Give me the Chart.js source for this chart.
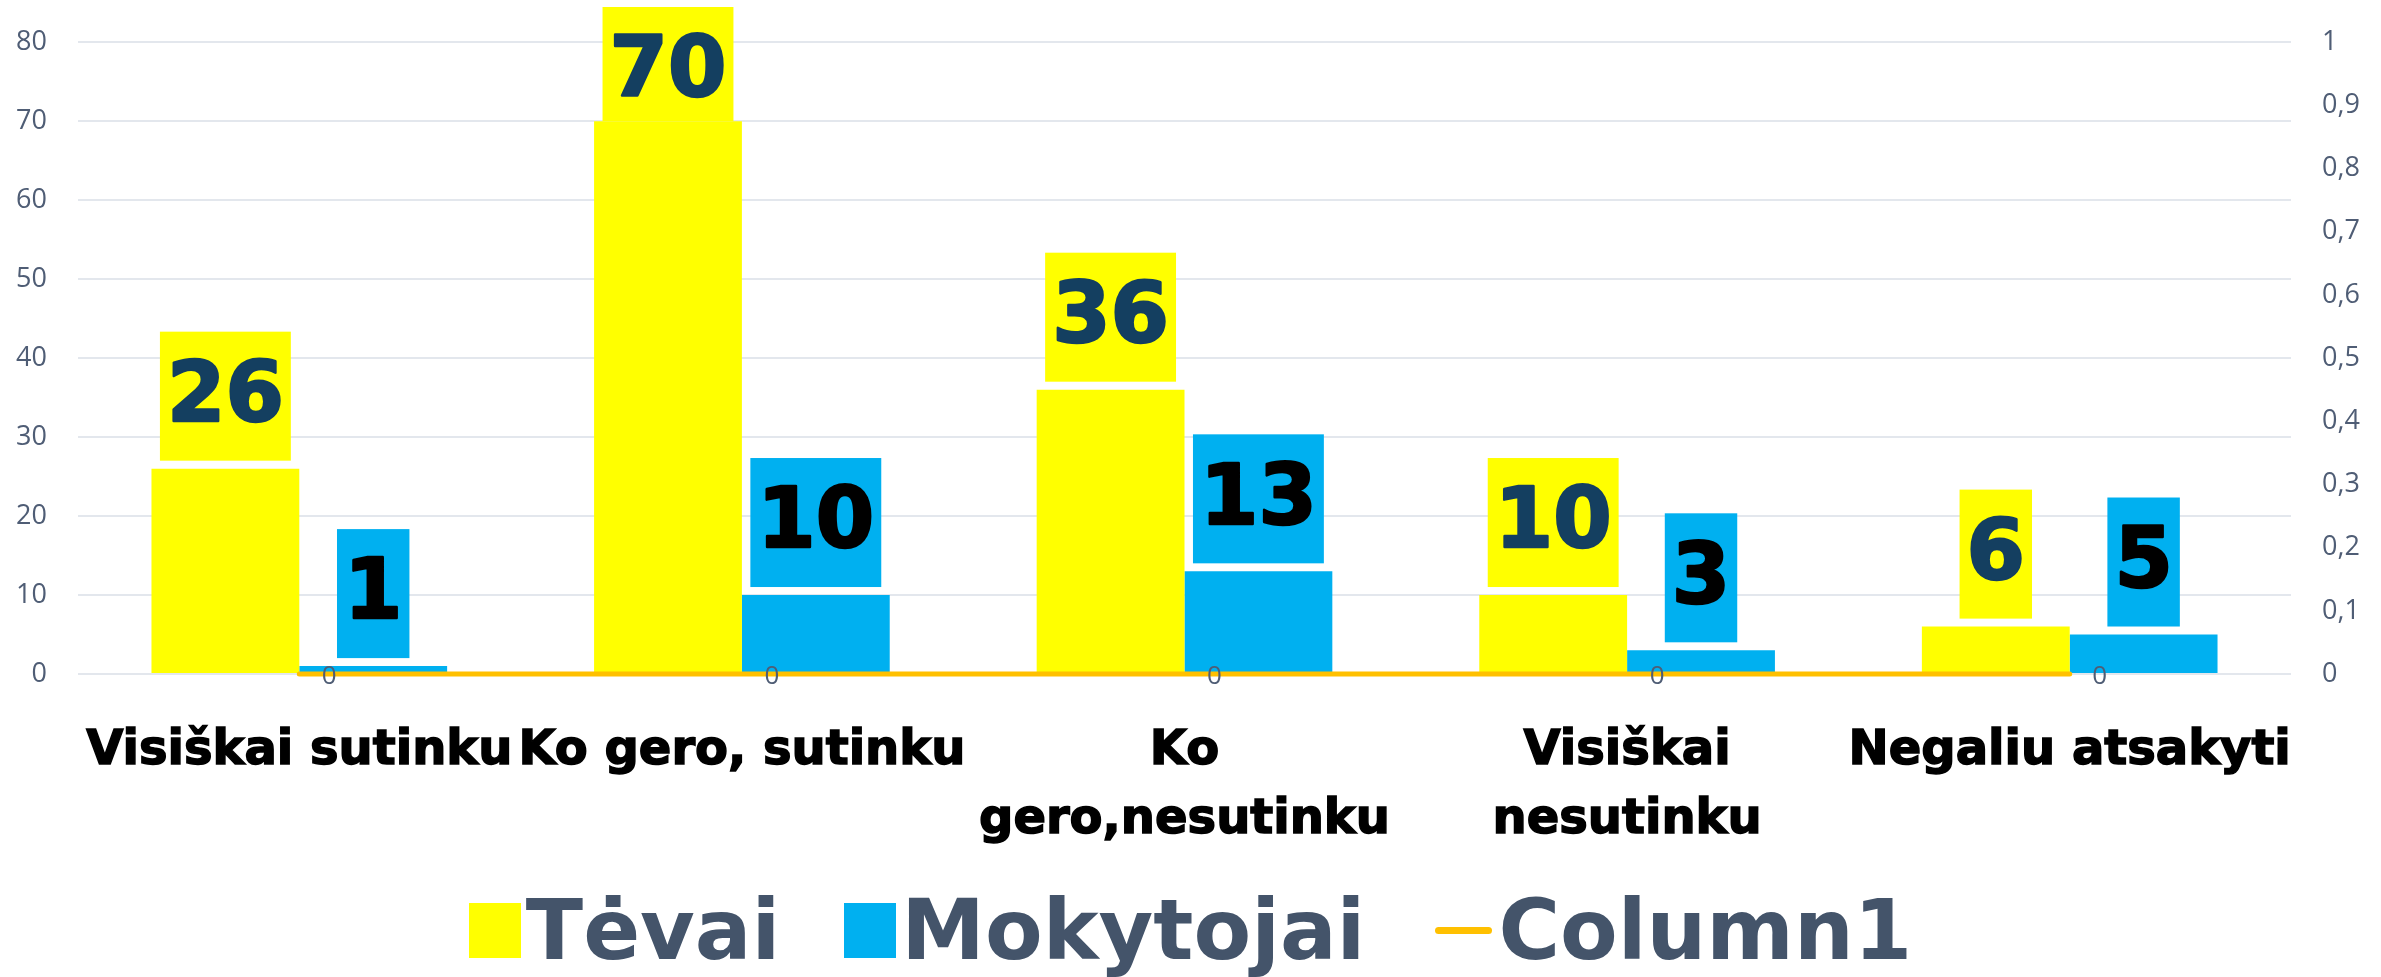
<!DOCTYPE html>
<html>
<head>
    <meta charset="UTF-8">
    <title>Apklausos rezultatai</title>
    <script src="https://cdn.jsdelivr.net/npm/chart.js"></script>
    <style>
        body { margin: 0; background: #fff; overflow: hidden; }
        .wrap { position: relative; width: 2381px; height: 977px; overflow: hidden; }
        #chart { position: absolute; left: 0; top: -5px; }
        .legend {
            position: absolute; left: 0; right: 0; top: 888px; height: 84px;
            display: flex; justify-content: center; align-items: center;
            font: bold 84px "DejaVu Sans", sans-serif; color: #44546A; line-height: 84px;
        }
        .legend .item { display: flex; align-items: center; margin: 0 32px; }
        .legend .box { width: 52px; height: 55px; margin-right: 5px; }
        .legend .line { width: 57px; height: 7px; border-radius: 4px; margin-right: 6px; margin-left: 6px; }
    </style>
</head>
<body>
<div class="wrap">
    <canvas id="chart" width="2381" height="982"></canvas>
    <div class="legend" id="legend"></div>
</div>

<script>
    // data
    const categories = ['Visiškai sutinku', 'Ko gero, sutinku', ['Ko', 'gero,nesutinku'], ['Visiškai', 'nesutinku'], 'Negaliu atsakyti'];
    const tevai = [26, 70, 36, 10, 6];
    const mokytojai = [1, 10, 13, 3, 5];
    const column1 = [0, 0, 0, 0, 0];
    const seriesNames = ['Tėvai', 'Mokytojai', 'Column1'];

    const YELLOW = '#FFFF00';
    const BLUE = '#00B0F0';
    const ORANGE = '#FFC000';
    const AXIS_TEXT = '#4F5D75';
    const GRID = '#E3E7ED';
    const SHIFT = 5; // canvas sits 5px above the page top

    // boxed value labels above the bars + small "0" labels for the line
    const valueLabels = {
        id: 'valueLabels',
        afterDatasetsDraw(chart) {
            const ctx = chart.ctx;
            ctx.save();
            chart.data.datasets.forEach((ds, di) => {
                const meta = chart.getDatasetMeta(di);
                meta.data.forEach((el, i) => {
                    const txt = String(ds.data[i]);
                    if (ds.type === 'line') {
                        ctx.font = '26px "Open Sans", sans-serif';
                        ctx.fillStyle = AXIS_TEXT;
                        ctx.textAlign = 'center';
                        ctx.textBaseline = 'middle';
                        ctx.fillText(txt, el.x + 30, el.y + 3);
                        return;
                    }
                    ctx.font = 'bold 84px "DejaVu Sans", sans-serif';
                    const w = ctx.measureText(txt).width + 14;
                    const h = 129;
                    let top = el.y - 8 - h;
                    let bottom = el.y - 8;
                    if (top < 7 + SHIFT) { top = 7 + SHIFT; bottom = Math.min(top + h, el.y); }
                    ctx.fillStyle = ds.backgroundColor;
                    ctx.fillRect(el.x - w / 2, top, w, bottom - top);
                    const col = ds.labelColor;
                    ctx.fillStyle = col;
                    ctx.strokeStyle = col;
                    ctx.lineWidth = 2.5;
                    ctx.lineJoin = 'round';
                    ctx.textAlign = 'center';
                    ctx.textBaseline = 'middle';
                    const ty = top + h / 2 + 3;
                    ctx.strokeText(txt, el.x, ty);
                    ctx.fillText(txt, el.x, ty);
                });
            });
            ctx.restore();
        }
    };

    const bgPlugin = {
        id: 'bg',
        beforeDraw(chart) {
            const ctx = chart.ctx;
            ctx.save();
            ctx.fillStyle = '#fff';
            ctx.fillRect(0, 0, chart.width, chart.height);
            ctx.restore();
        }
    };

    const chart = new Chart(document.getElementById('chart'), {
        type: 'bar',
        data: {
            labels: categories,
            datasets: [
                {
                    label: seriesNames[0], data: tevai, backgroundColor: YELLOW, labelColor: '#143F60',
                    yAxisID: 'y', order: 1, categoryPercentage: 0.668, barPercentage: 1
                },
                {
                    label: seriesNames[1], data: mokytojai, backgroundColor: BLUE, labelColor: '#000000',
                    yAxisID: 'y', order: 1, categoryPercentage: 0.668, barPercentage: 1
                },
                {
                    type: 'line', label: seriesNames[2], data: column1, borderColor: ORANGE, backgroundColor: ORANGE,
                    borderWidth: 5, borderCapStyle: 'round', pointRadius: 0, yAxisID: 'y1', order: 0, clip: false
                }
            ]
        },
        options: {
            responsive: false,
            animation: false,
            devicePixelRatio: 1,
            layout: { padding: { top: 47, bottom: 0, left: 0, right: 0 } },
            plugins: { legend: { display: false }, tooltip: { enabled: false } },
            scales: {
                x: {
                    grid: { display: false, drawTicks: false },
                    border: { display: false },
                    ticks: {
                        autoSkip: false, maxRotation: 0, padding: 43, color: '#000',
                        textStrokeColor: '#000', textStrokeWidth: 1.5,
                        font: { family: '"DejaVu Sans", sans-serif', size: 48, weight: 'bold', lineHeight: 1.44 }
                    },
                    afterFit(scale) { scale.height = 303; }
                },
                y: {
                    position: 'left', min: 0, max: 80,
                    grid: { color: GRID, lineWidth: 2, drawTicks: false },
                    border: { display: false },
                    ticks: { stepSize: 10, padding: 31, color: AXIS_TEXT, font: { family: '"Open Sans", sans-serif', size: 27 } },
                    afterFit(scale) { scale.width = 78; }
                },
                y1: {
                    position: 'right', min: 0, max: 1,
                    grid: { display: false, drawTicks: false },
                    border: { display: false },
                    ticks: {
                        stepSize: 0.1, padding: 31, color: AXIS_TEXT,
                        font: { family: '"Open Sans", sans-serif', size: 27 },
                        callback: (v) => (v === 0 || v === 1) ? String(v) : v.toFixed(1).replace('.', ',')
                    },
                    afterFit(scale) { scale.width = 90; }
                }
            }
        },
        plugins: [bgPlugin, valueLabels]
    });

    // legend built from the datasets
    const legend = document.getElementById('legend');
    chart.data.datasets.forEach(ds => {
        const item = document.createElement('div');
        item.className = 'item';
        const mark = document.createElement('span');
        mark.className = ds.type === 'line' ? 'line' : 'box';
        mark.style.background = ds.type === 'line' ? ds.borderColor : ds.backgroundColor;
        const txt = document.createElement('span');
        txt.textContent = ds.label;
        item.appendChild(mark);
        item.appendChild(txt);
        legend.appendChild(item);
    });
</script>
</body>
</html>
